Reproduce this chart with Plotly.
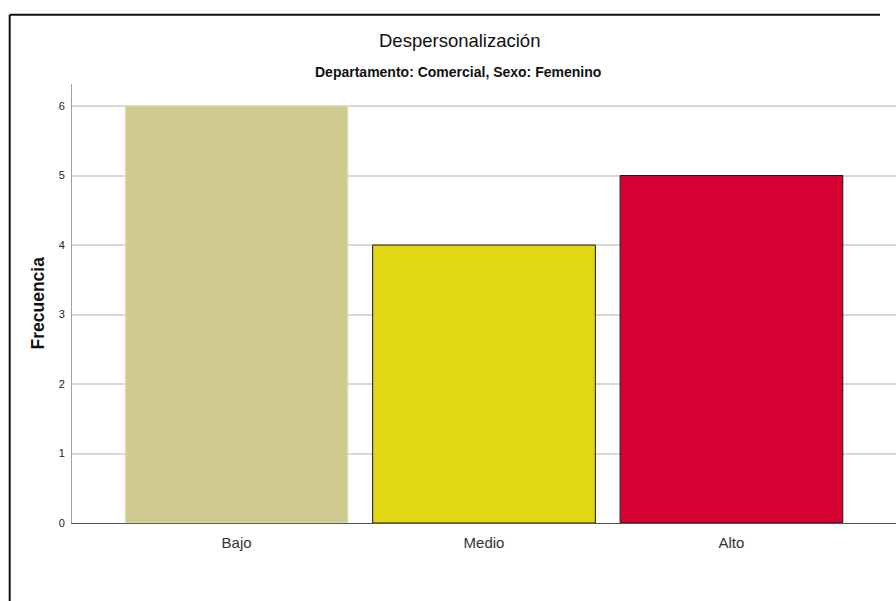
import plotly.graph_objects as go

# Frecuencias por nivel de despersonalización
categorias = ["Bajo", "Medio", "Alto"]
frecuencias = [6, 4, 5]
colores = ["#CFCA8F", "#E1D712", "#D70033"]
bordes = ["#E6E2C2", "#1a1a1a", "#1a1a1a"]
y_ticks = [0, 1, 2, 3, 4, 5, 6]

titulo = "Despersonalización"
subtitulo = "Departamento: Comercial, Sexo: Femenino"
eje_y = "Frecuencia"

FONT = "Liberation Sans, Arial, sans-serif"

# layout geometry (pixels)
W, H = 896, 601
L, R, T, B = 72, 0, 84, 78
pw, ph = W - L - R, H - T - B


def px(x):
    return (x - L) / pw


def py(y):
    return (H - B - y) / ph


fig = go.Figure(
    go.Bar(
        x=list(range(len(categorias))),
        y=frecuencias,
        width=0.9,
        marker=dict(color=colores, line=dict(color=bordes, width=1)),
        hoverinfo="skip",
    )
)

fig.update_layout(
    width=W,
    height=H,
    margin=dict(l=L, r=R, t=T, b=B),
    paper_bgcolor="white",
    plot_bgcolor="white",
    showlegend=False,
    font=dict(family=FONT, color="#222222"),
    xaxis=dict(
        range=[-0.665, 2.665],
        tickmode="array",
        tickvals=list(range(len(categorias))),
        ticktext=categorias,
        showgrid=False,
        zeroline=False,
        showline=True,
        linecolor="#555555",
        linewidth=1,
        ticks="",
        tickfont=dict(size=15, color="#333333"),
        ticklabelstandoff=6,
    ),
    yaxis=dict(
        range=[0, 6.317],
        tickmode="array",
        tickvals=y_ticks,
        showgrid=True,
        gridcolor="#D8D8D8",
        gridwidth=1.5,
        zeroline=False,
        showline=True,
        linecolor="#A0A0A0",
        linewidth=1,
        ticks="",
        tickfont=dict(size=11, color="#222222"),
        ticklabelstandoff=4,
    ),
    annotations=[
        dict(text=titulo, x=px(459), y=py(41), xref="paper", yref="paper",
             showarrow=False, xanchor="center", yanchor="middle",
             font=dict(size=18.5, color="#111111", family=FONT)),
        dict(text="<b>" + subtitulo + "</b>", x=px(458), y=py(72), xref="paper", yref="paper",
             showarrow=False, xanchor="center", yanchor="middle",
             font=dict(size=14, color="#111111", family=FONT)),
        dict(text="<b>" + eje_y + "</b>", x=px(37), y=0.5, xref="paper", yref="paper",
             showarrow=False, xanchor="center", yanchor="middle", textangle=-90,
             font=dict(size=17.5, color="#111111", family=FONT)),
    ],
    shapes=[
        # outer frame: left edge and top edge
        dict(type="line", xref="paper", yref="paper",
             x0=px(9.7), y0=py(601), x1=px(9.7), y1=py(14.7),
             line=dict(color="#111111", width=2)),
        dict(type="line", xref="paper", yref="paper",
             x0=px(9.7), y0=py(14.7), x1=px(880), y1=py(14.7),
             line=dict(color="#111111", width=2)),
    ],
)

fig.write_html("out.html")
